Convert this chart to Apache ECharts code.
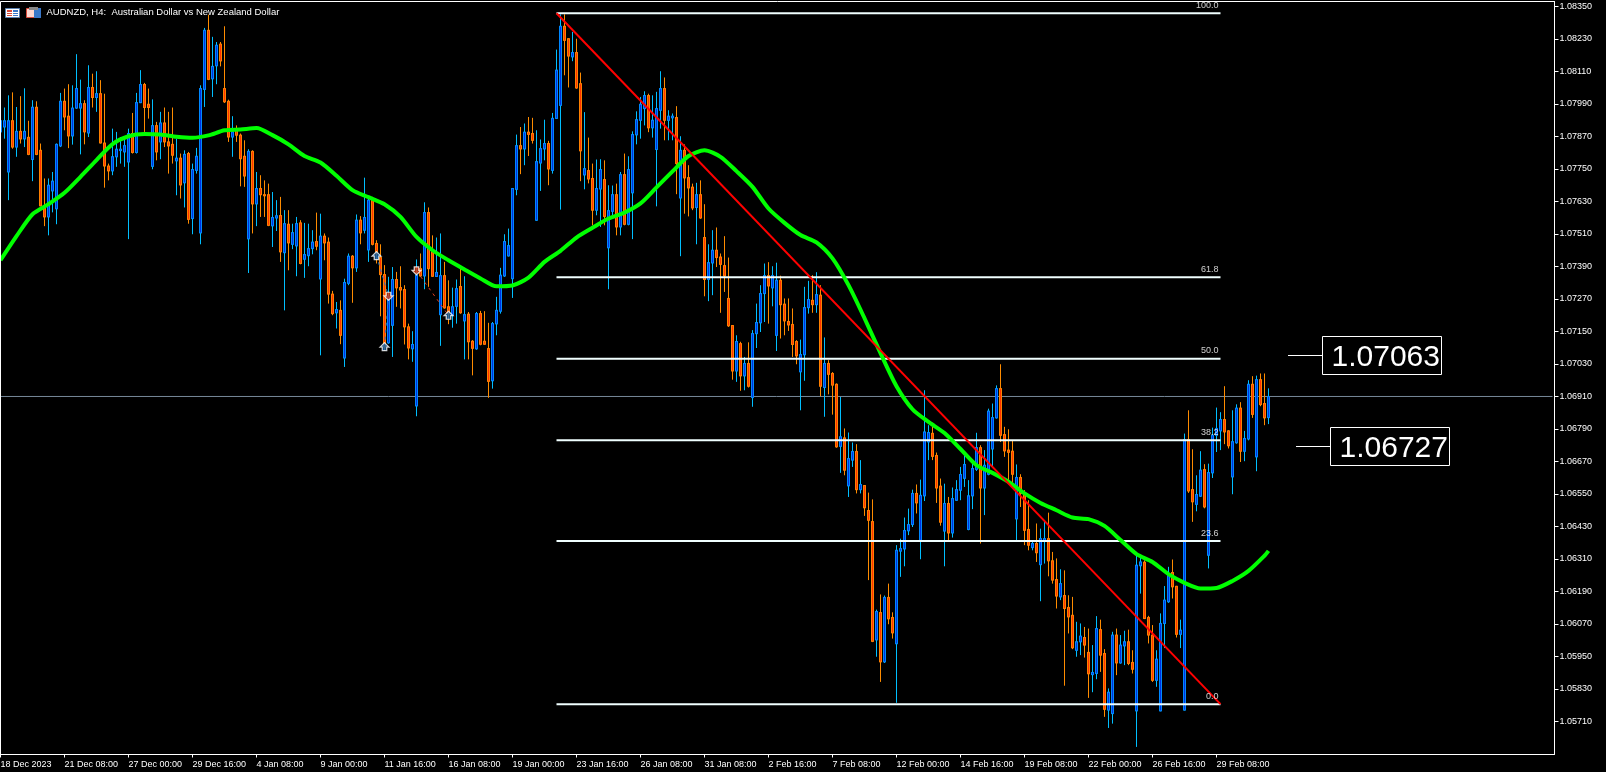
<!DOCTYPE html>
<html><head><meta charset="utf-8">
<style>html,body{margin:0;padding:0;background:#000;overflow:hidden}#c{width:1606px;height:772px}</style>
<script src="https://cdn.jsdelivr.net/npm/echarts@6/dist/echarts.min.js"></script>
</head><body><div id="c"></div>
<script>
// Prices in 1/100000 units, one entry per H4 bar
const opens=[107887,107905,107739,107928,107831,107889,107861,107867,107785,107978,
107819,107604,107573,107669,107603,107835,108000,107945,107872,107975,
107975,107991,107883,108051,108014,108028,107846,107761,107743,107795,
107818,107813,107776,107881,107811,107995,108062,107989,107760,107910,
107850,107920,107850,107841,107780,107790,107699,107807,107567,107745,
107514,108044,108262,108083,108131,108211,108047,108000,107868,107893,
107875,107797,107492,107815,107621,107678,107655,107655,107540,107569,
107578,107441,107546,107472,107466,107551,107417,107430,107456,107482,
107344,107502,107480,107288,107219,107228,107052,107328,107428,107385,
107561,107524,107451,107635,107475,107423,107360,107108,107173,107342,
107312,107305,107167,107086,106875,107382,107355,107589,107450,107353,
107212,107356,107241,107210,107243,107316,107189,107214,107114,107086,
107216,107114,107087,106968,107178,107225,107355,107429,107345,107675,
107836,107824,107886,107881,107561,107772,107824,107844,107745,107937,
107985,108277,108231,108164,108180,108065,107728,107744,107715,107598,
107676,107711,107459,107594,107655,107536,107729,107546,107662,107876,
107930,107973,108021,107902,107822,107967,108047,107930,107939,107940,
107643,107819,107718,107683,107608,107655,107497,107342,107403,107450,
107425,107393,107272,107172,107004,107105,106986,107032,106906,107142,
107182,107290,107356,107311,107136,107339,107251,107187,107176,107113,
107001,107064,107238,107265,107249,107284,106943,107032,106995,106955,
106726,106757,106580,106675,106707,106566,106581,106489,106448,106011,
106112,105930,106168,106094,105997,106339,106347,106414,106437,106552,
106379,106543,106742,106774,106692,106579,106413,106515,106406,106527,
106564,106608,106419,106543,106641,106721,106572,106623,106716,106831,
106939,106769,106712,106708,106458,106611,106552,106419,106352,106367,
106289,106377,106385,106303,106234,106170,106175,106131,106102,105973,
106004,106020,105965,105883,105887,106049,105961,105752,105739,106029,
105926,105989,106004,105928,105749,106285,106298,106094,106029,105862,
105749,106072,106152,106260,106209,106032,105752,106751,106566,106512,
106542,106640,106324,106628,106767,106783,106825,106783,106613,106739,
106867,106708,106753,106955,106687,106972,106884,106832];
const highs=[107979,107977,108022,108033,107979,108019,108048,107928,108004,108000,
107844,107715,107715,107739,107844,108031,108047,108063,108059,108174,
108080,108004,108133,108102,108111,108078,108028,107770,107899,107887,
107868,107868,107899,107957,108031,108115,108068,108047,108007,107924,
107961,107977,107961,107977,107862,107807,107819,107813,107770,107828,
108059,108271,108320,108238,108219,108219,108277,108006,107945,107911,
107881,107856,107823,107819,107739,107727,107708,107696,107665,107635,
107647,107598,107598,107548,107573,107561,107551,107548,107524,107589,
107585,107512,107497,107300,107259,107265,107345,107438,107432,107582,
107576,107718,107647,107647,107487,107472,107395,107352,107388,107370,
107391,107321,107179,107151,107416,107438,107627,107608,107505,107497,
107512,107407,107339,107312,107342,107382,107354,107222,107118,107222,
107226,107225,107182,107185,107278,107385,107509,107530,107678,107877,
107905,107918,107942,107939,107893,107859,107932,107854,107957,108191,
108321,108321,108231,108256,108231,108106,107960,107866,107770,107785,
107786,107782,107690,107689,107696,107739,107807,107797,107889,107963,
108016,108037,108028,108022,108035,108111,108088,107967,107955,107982,
107871,107841,107764,107696,107699,107708,107620,107472,107524,107534,
107438,107502,107423,107172,107136,107112,107056,107110,107155,107253,
107321,107401,107406,107391,107404,107356,107272,107272,107235,107118,
107120,107315,107337,107358,107369,107321,107128,107044,107000,106958,
106908,106792,106777,106740,106734,106675,106581,106555,106530,106123,
106179,106175,106219,106113,106361,106385,106463,106496,106566,106585,
106603,106933,106804,106813,106703,106607,106588,106539,106574,106601,
106650,106699,106601,106675,106776,106730,106712,106865,106884,106951,
107029,106798,106789,106749,106659,106623,106564,106527,106379,106441,
106422,106453,106481,106336,106312,106272,106268,106176,106170,106078,
106072,106059,106053,105992,106099,106086,105977,105832,106041,106053,
106029,106045,106049,105973,106336,106318,106305,106100,106066,105973,
106109,106210,106281,106308,106209,106086,106773,106859,106715,106619,
106708,106660,106662,106795,106869,106852,106948,106785,106859,106881,
106889,106783,106970,106985,106987,106995,106995,106940];
const lows=[107859,107862,107635,107825,107795,107844,107831,107801,107705,107801,
107614,107539,107505,107590,107546,107831,107893,107827,107840,107973,
107804,107841,107868,107977,107961,107846,107681,107708,107727,107758,
107770,107758,107491,107807,107807,107994,107887,107936,107749,107782,
107786,107831,107733,107770,107653,107641,107608,107548,107509,107733,
107472,107979,108078,108016,108063,108129,107994,107850,107795,107850,
107686,107684,107366,107512,107539,107573,107573,107539,107462,107521,
107407,107228,107376,107454,107354,107398,107348,107391,107435,107450,
107062,107413,107253,107210,107161,107103,107019,107321,107256,107370,
107472,107512,107407,107468,107401,107206,107078,107105,107056,107241,
107235,107102,107047,107038,106837,107352,107306,107315,107352,107352,
107097,107235,107177,107164,107179,107216,107047,107047,106988,107083,
107099,107102,106905,106939,107136,107216,107352,107428,107274,107653,
107731,107764,107798,107844,107558,107669,107782,107690,107733,107935,
107600,108096,108051,108148,108047,107705,107675,107697,107542,107579,
107536,107542,107306,107573,107505,107505,107542,107542,107491,107841,
107862,107911,107886,107866,107612,107899,107856,107856,107856,107657,
107428,107585,107575,107598,107472,107567,107280,107262,107284,107388,
107219,107296,107167,106972,106964,106931,106933,106943,106872,107089,
107148,107185,107179,107243,107078,107124,107136,107152,107056,107029,
106859,106968,107216,107219,107219,106911,106835,106918,106843,106721,
106628,106619,106539,106650,106552,106552,106469,106232,106003,105949,
105856,105926,106069,106016,105779,106244,106283,106398,106428,106478,
106309,106524,106675,106675,106517,106433,106283,106379,106389,106525,
106527,106576,106416,106494,106635,106367,106472,106619,106650,106829,
106742,106687,106589,106582,106379,106502,106361,106342,106342,106299,
106154,106293,106246,106219,106127,106158,105842,106035,105977,105949,
105955,105946,105797,105818,105866,105893,105727,105686,105702,105881,
105924,105918,105918,105887,105616,106182,106090,105998,105856,105838,
105749,105981,106148,106164,106020,105981,105752,106554,106447,106486,
106539,106497,106275,106609,106705,106712,106734,106718,106549,106736,
106668,106671,106748,106831,106634,106874,106804,106808];
const closes=[107928,107928,107928,107831,107889,107861,107889,107804,107978,107804,
107614,107573,107690,107705,107841,108000,107942,107872,107975,108047,
107991,107887,108051,108014,108028,107846,107761,107743,107795,107823,
107823,107836,107881,107811,107995,108062,107977,107977,107910,107813,
107920,107850,107835,107801,107790,107691,107804,107564,107748,107797,
108047,108262,108081,108129,108207,108149,107998,107868,107887,107875,
107788,107724,107815,107621,107678,107655,107651,107542,107571,107577,
107444,107548,107477,107515,107548,107401,107434,107456,107480,107465,
107502,107477,107288,107216,107231,107136,107331,107428,107385,107561,
107514,107571,107635,107472,107444,107360,107093,107278,107342,107311,
107303,107167,107089,107102,107358,107355,107589,107382,107354,107368,
107356,107237,107216,107241,107308,107219,107212,107112,107088,107216,
107103,107103,106966,107179,107228,107358,107482,107467,107678,107836,
107824,107886,107878,107856,107777,107825,107844,107750,107937,108115,
108277,108225,108167,108180,108049,107817,107751,107713,107598,107678,
107748,107575,107596,107655,107536,107729,107546,107748,107877,107932,
107989,108021,107902,107930,107973,108047,107930,107945,107945,107770,
107819,107717,107680,107606,107655,107569,107342,107404,107450,107423,
107398,107355,107171,107004,107113,106986,107032,106948,107142,107183,
107290,107356,107318,107356,107339,107249,107189,107174,107102,107060,
107065,107238,107268,107249,107286,106948,107032,106992,106952,106724,
106761,106638,106681,106707,106566,106585,106499,106453,106006,106116,
105930,106168,106089,106037,106342,106348,106415,106437,106552,106517,
106545,106779,106777,106689,106572,106446,106515,106406,106533,106566,
106622,106659,106543,106644,106721,106572,106656,106856,106832,106939,
106767,106709,106704,106623,106611,106552,106416,106361,106367,106333,
106385,106385,106303,106232,106173,106219,106127,106096,105982,106004,
106025,105992,105886,105891,106053,105955,105755,105818,106029,105926,
105992,106004,105924,105903,106287,106299,106090,106029,105862,105940,
106072,106158,106248,106207,106032,106047,106751,106561,106521,106548,
106638,106502,106629,106767,106792,106825,106779,106728,106743,106867,
106708,106755,106955,106844,106972,106880,106831,106910];
const movingAverage=[107413,107502,107583,107620,107662,107721,107783,107842,107871,107879,
107877,107869,107865,107874,107893,107896,107901,107875,107841,107798,
107774,107725,107672,107646,107620,107573,107499,107450,107413,107379,
107346,107317,107320,107349,107407,107448,107497,107533,107567,107589,
107623,107682,107741,107798,107819,107795,107742,107684,107604,107551,
107506,107479,107420,107321,107199,107070,106948,106863,106816,106775,
106716,106656,106628,106595,106552,106517,106490,106463,106457,106432,
106380,106328,106299,106254,106222,106201,106203,106229,106266,106322,106340];
const maBarStep=4;
const lastBar=317;
const barSlots=389;
const timeTickStep=16;
const timeLabels=['18 Dec 2023','21 Dec 08:00','27 Dec 00:00','29 Dec 16:00','4 Jan 08:00','9 Jan 00:00','11 Jan 16:00','16 Jan 08:00','19 Jan 00:00','23 Jan 16:00','26 Jan 08:00','31 Jan 08:00','2 Feb 16:00','7 Feb 08:00','12 Feb 00:00','14 Feb 16:00','19 Feb 08:00','22 Feb 00:00','26 Feb 16:00','29 Feb 08:00'];
const priceTicks=[1.05710,1.05830,1.05950,1.06070,1.06190,1.06310,1.06430,1.06550,1.06670,1.06790,1.06910,1.07030,1.07150,1.07270,1.07390,1.07510,1.07630,1.07750,1.07870,1.07990,1.08110,1.08230,1.08350];
const currentPrice=1.06910;
const fibHigh=1.08325, fibLow=1.05774, fibStartBar=139, fibEndBar=305;
const fibRatios=[1,0.618,0.5,0.382,0.236,0];
const fibTexts=['100.0','61.8','50.0','38.2','23.6','0.0'];
const buyMarks=[[94,1.07430],[96,1.07094],[112,1.07210]];
const sellMarks=[[97,1.07280],[104,1.07374]];
const blueTrades=[[[94,1.07430],[97,1.07280]],[[96,1.07094],[97,1.07280]]];
const redTrades=[[[104,1.07374],[112,1.07210]]];
const calloutUpper='1.07063', calloutLower='1.06727';
const chartTitle='AUDNZD, H4:  Australian Dollar vs New Zealand Dollar';

const P=v=>v/1e5;
const cats=Array.from({length:barSlots},(_,i)=>i%timeTickStep===0?(timeLabels[i/timeTickStep]||''):'');
const wickData=opens.map((o,i)=>[P(o),P(closes[i]),P(lows[i]),P(highs[i])]);
const bodyData=opens.map((o,i)=>[P(o),P(closes[i]),P(Math.min(o,closes[i])),P(Math.max(o,closes[i]))]);
const maData=movingAverage.map((v,i)=>[i===movingAverage.length-1?lastBar:i*maBarStep,P(v)]);
const fibLevels=fibRatios.map(r=>fibLow+(fibHigh-fibLow)*r);
const FONT='"Liberation Sans"';
const tickShown=i=>i%timeTickStep===0&&i/timeTickStep<timeLabels.length;
const chart=echarts.init(document.getElementById('c'),null,{renderer:'canvas',width:1606,height:772});
const upPath='path://M0,-5 L5,0 L2.5,0 L2.5,4 L-2.5,4 L-2.5,0 L-5,0 Z';
const downPath='path://M0,5 L5,0 L2.5,0 L2.5,-4 L-2.5,-4 L-2.5,0 L-5,0 Z';
const series=[
 {type:'candlestick',name:'wicks',data:wickData,barWidth:2,z:2,silent:true,itemStyle:{color:'#00bfff',color0:'#ff8c00',borderColor:'#00bfff',borderColor0:'#ff8c00',borderWidth:1}},
 {type:'candlestick',name:'bodies',data:bodyData,barWidth:2,z:3,silent:true,itemStyle:{color:'#0030e0',color0:'#ff3300',borderColor:'#0088ff',borderColor0:'#ff8000',borderWidth:1}},
 {type:'line',name:'price',data:[[0,currentPrice],[barSlots-1,currentPrice]],showSymbol:false,silent:true,z:1,lineStyle:{color:'#778899',width:1}},
 ...fibLevels.map(v=>({type:'line',data:[[fibStartBar,v],[fibEndBar,v]],showSymbol:false,silent:true,z:4,lineStyle:{color:'#f0ffff',width:2}})),
 {type:'scatter',name:'fibLabels',data:fibLevels.map((v,i)=>({value:[fibEndBar,v],name:fibTexts[i]})),symbolSize:0,silent:true,z:7,label:{show:true,position:'left',distance:2,offset:[0,-8],color:'#fff',fontFamily:FONT,fontSize:9,formatter:p=>p.name}},
 {type:'line',name:'trend',data:[[fibStartBar,fibHigh],[fibEndBar,fibLow]],showSymbol:false,silent:true,z:6,lineStyle:{color:'#ff0000',width:2}},
 {type:'line',name:'MA',data:maData,showSymbol:false,silent:true,z:5,smooth:0.25,lineStyle:{color:'#00ff00',width:4}},
 ...blueTrades.map(d=>({type:'line',data:d,showSymbol:false,silent:true,z:4,lineStyle:{color:'#1e70c0',width:1,type:[3,4]}})),
 ...redTrades.map(d=>({type:'line',data:d,showSymbol:false,silent:true,z:4,lineStyle:{color:'#e04020',width:1,type:[3,4]}})),
 {type:'scatter',data:buyMarks,symbol:upPath,symbolSize:[9,8],silent:true,z:8,itemStyle:{color:'#1c64a8',borderColor:'#fff',borderWidth:1.2}},
 {type:'scatter',data:sellMarks,symbol:downPath,symbolSize:[9,8],silent:true,z:8,itemStyle:{color:'#d83c14',borderColor:'#fff',borderWidth:1.2}}
];
chart.setOption({
 animation:false,backgroundColor:'#000',
 grid:{left:-1.5,top:1.5,width:1556,height:753,containLabel:false,outerBoundsMode:'none'},
 xAxis:{type:'category',data:cats,boundaryGap:true,
  axisLine:{show:true,lineStyle:{color:'#fff',width:1}},
  axisTick:{show:true,alignWithLabel:true,interval:i=>tickShown(i),length:3,lineStyle:{color:'#fff'}},
  axisLabel:{show:true,interval:i=>tickShown(i),align:'left',margin:6,color:'#fff',fontFamily:FONT,fontSize:9,showMinLabel:true,hideOverlap:false},
  splitLine:{show:false}},
 yAxis:{type:'value',position:'right',min:1.05588,max:1.083685,scale:true,
  axisLine:{show:true,lineStyle:{color:'#fff',width:1}},
  axisTick:{show:true,length:4,customValues:priceTicks,lineStyle:{color:'#fff'}},
  axisLabel:{show:true,margin:5,customValues:priceTicks,color:'#fff',fontFamily:FONT,fontSize:9,formatter:v=>v.toFixed(5)},
  splitLine:{show:false}},
 series,
 graphic:[
  {type:'rect',shape:{x:0.5,y:1.5,width:1554,height:753},style:{fill:'none',stroke:'#fff',lineWidth:1},silent:true,z:20},
  {type:'text',x:46.5,y:12.5,style:{text:chartTitle,fill:'#fff',font:'9.5px '+FONT,textVerticalAlign:'middle'},silent:true,z:20},
  // toolbar icons
  {type:'rect',shape:{x:5.5,y:8.5,width:14,height:9},style:{fill:'#fff',stroke:'#5a80b0',lineWidth:1},z:20,silent:true},
  {type:'rect',shape:{x:7,y:10,width:5,height:6},style:{fill:'#d84a3a'},z:21,silent:true},
  {type:'rect',shape:{x:13,y:10,width:5,height:6},style:{fill:'#3a78c8'},z:21,silent:true},
  {type:'rect',shape:{x:7,y:12,width:11,height:1},style:{fill:'#fff'},z:22,silent:true},
  {type:'rect',shape:{x:7,y:14,width:11,height:1},style:{fill:'#fff'},z:22,silent:true},
  {type:'rect',shape:{x:26.5,y:8.5,width:14,height:9},style:{fill:'#ffd8d0',stroke:'#d84a3a',lineWidth:1},z:20,silent:true},
  {type:'rect',shape:{x:34,y:8,width:7,height:10},style:{fill:'#3a78c8'},z:21,silent:true},
  {type:'rect',shape:{x:29,y:7,width:9,height:3},style:{fill:'#888'},z:22,silent:true},
  // value callouts
  {type:'line',shape:{x1:1288,y1:355.5,x2:1322,y2:355.5},style:{stroke:'#fff',lineWidth:1},z:20,silent:true},
  {type:'rect',shape:{x:1322.5,y:336.5,width:119,height:38},style:{fill:'#000',stroke:'#fff',lineWidth:1},z:20,silent:true},
  {type:'text',x:1331.5,y:358,style:{text:calloutUpper,fill:'#fff',font:'30px '+FONT,textVerticalAlign:'middle'},z:21,silent:true},
  {type:'line',shape:{x1:1296,y1:446.5,x2:1330,y2:446.5},style:{stroke:'#fff',lineWidth:1},z:20,silent:true},
  {type:'rect',shape:{x:1330.5,y:427.5,width:119,height:38},style:{fill:'#000',stroke:'#fff',lineWidth:1},z:20,silent:true},
  {type:'text',x:1339.5,y:449,style:{text:calloutLower,fill:'#fff',font:'30px '+FONT,textVerticalAlign:'middle'},z:21,silent:true}
 ]
});
</script></body></html>
